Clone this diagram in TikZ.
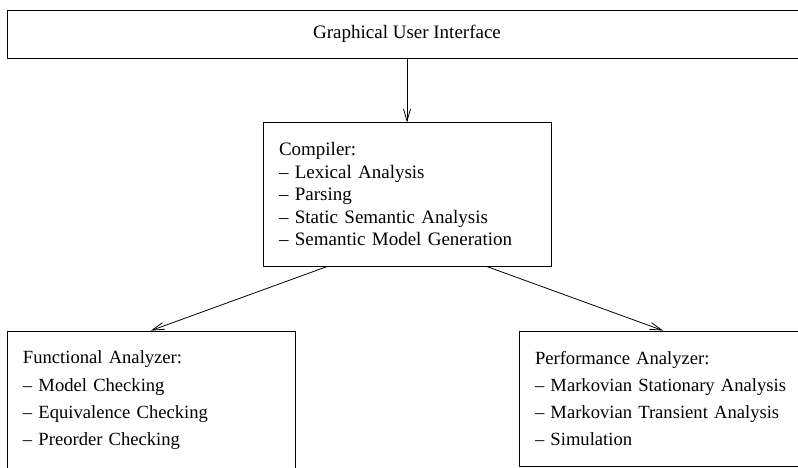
\documentclass[tikz,border=0pt]{standalone}
\usepackage{fontspec}
\setmainfont{Liberation Serif}
\usetikzlibrary{arrows.meta,positioning}
\tikzset{
    block/.style={draw,line width=0.8pt,inner xsep=16pt,inner ysep=20pt,text width=256pt,align=left,font=\fontsize{19}{22.5}\selectfont},
    analyzer/.style={block,font=\fontsize{18.6}{27.3}\selectfont},
    banner/.style={draw,line width=0.8pt,minimum width=800pt,minimum height=48pt,font=\fontsize{19}{23}\selectfont},
    pre/.style={-{Straight Barb[length=12pt,width=7pt]},line width=0.8pt}
}
\begin{document}
\begin{tikzpicture}
    \useasboundingbox (0,0) rectangle (798pt,-468pt);
    \clip (0,0) rectangle (798pt,-468pt);

    \node[banner] (gui) at (407pt,-34pt) {Graphical User Interface};

    \node[block] (comp) [below=64pt of gui]
        {Compiler:\\-- Lexical Analysis\\-- Parsing\\-- Static Semantic Analysis\\-- Semantic Model Generation};

    \node[analyzer] (func) [below=64pt of comp, xshift=-256pt]
        {Functional Analyzer:\\-- Model Checking\\-- Equivalence Checking\\-- Preorder Checking};
    \node[analyzer] (perf) [below=64pt of comp, xshift=256pt]
        {Performance Analyzer:\\-- Markovian Stationary Analysis\\-- Markovian Transient Analysis\\-- Simulation};

    \draw[pre] (gui) -- (comp);
    \draw[pre] ([xshift=-80pt]comp.south) -- (func.north);
    \draw[pre] ([xshift=80pt]comp.south) -- (perf.north);
\end{tikzpicture}
\end{document}
